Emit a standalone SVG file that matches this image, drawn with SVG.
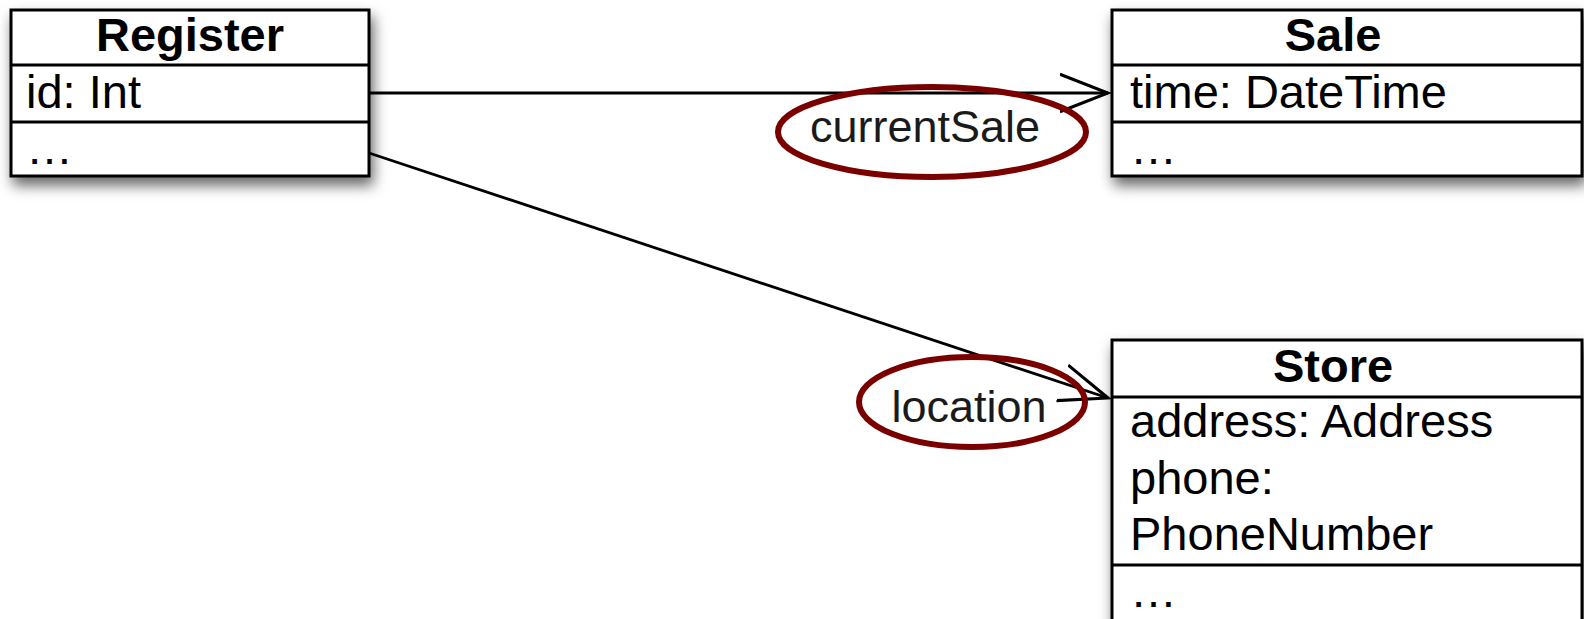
<svg xmlns="http://www.w3.org/2000/svg" width="1584" height="619" viewBox="0 0 1584 619">
<defs>
<filter id="sh" x="-10%" y="-20%" width="130%" height="160%">
<feDropShadow dx="3" dy="8" stdDeviation="7" flood-color="#000" flood-opacity="0.6"/>
</filter>
<marker id="open" viewBox="0 0 20 20" refX="18.5" refY="10" markerWidth="52" markerHeight="52" markerUnits="userSpaceOnUse" orient="auto">
<path d="M0,2.8 L18.5,10 L0,17.2" fill="none" stroke="#000" stroke-width="1.2"/>
</marker>
</defs>
<style>
.box{fill:#fff;stroke:#000;stroke-width:3}
.div{stroke:#000;stroke-width:3}
.t{font-family:"Liberation Sans",Arial,sans-serif;font-size:47px;fill:#000}
.h{font-weight:bold;text-anchor:middle}
.lbl{font-family:"Liberation Sans",Arial,sans-serif;font-size:45px;fill:#1a1a1a;text-anchor:middle}
.conn{stroke:#000;stroke-width:2.8;fill:none}
.ring{fill:none;stroke:#7a0000;stroke-width:6}
</style>
<rect width="1584" height="619" fill="#fff"/>
<g id="Register">
<rect class="box" x="11" y="10" width="358" height="166" filter="url(#sh)"/>
<line class="div" x1="11" y1="65" x2="369" y2="65"/>
<line class="div" x1="11" y1="122" x2="369" y2="122"/>
<text class="t h" x="190" y="51">Register</text>
<text class="t" x="26" y="108">id: Int</text>
<text class="t" x="26" y="164">…</text>
</g>
<g id="Sale">
<rect class="box" x="1112" y="10" width="470" height="166" filter="url(#sh)"/>
<line class="div" x1="1112" y1="65" x2="1582" y2="65"/>
<line class="div" x1="1112" y1="122" x2="1582" y2="122"/>
<text class="t h" x="1333" y="51">Sale</text>
<text class="t" x="1130" y="108">time: DateTime</text>
<text class="t" x="1130" y="164">…</text>
</g>
<g id="Store">
<rect class="box" x="1112" y="340" width="470" height="300" filter="url(#sh)"/>
<line class="div" x1="1112" y1="397" x2="1582" y2="397"/>
<line class="div" x1="1112" y1="565" x2="1582" y2="565"/>
<text class="t h" x="1333" y="382">Store</text>
<text class="t" x="1130" y="437">address: Address</text>
<text class="t" x="1130" y="494">phone:</text>
<text class="t" x="1130" y="550">PhoneNumber</text>
<text class="t" x="1130" y="607">…</text>
</g>
<g id="connectors">
<line class="conn" x1="369" y1="93" x2="1108" y2="93" marker-end="url(#open)"/>
<line class="conn" x1="369" y1="153" x2="1108" y2="398" marker-end="url(#open)"/>
</g>
<g id="labels">
<ellipse class="ring" cx="932" cy="132" rx="154" ry="45"/>
<text class="lbl" x="925" y="142">currentSale</text>
<ellipse class="ring" cx="972" cy="402" rx="113" ry="45"/>
<text class="lbl" x="969" y="422">location</text>
</g>
</svg>
